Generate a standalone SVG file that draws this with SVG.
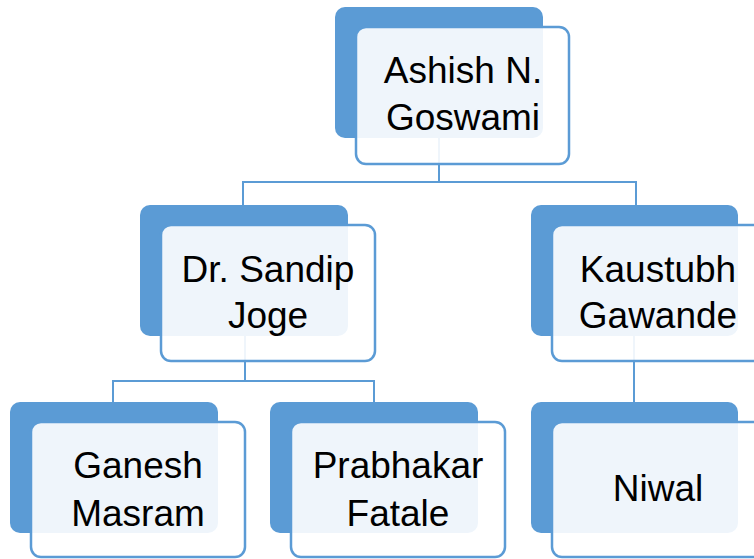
<svg xmlns="http://www.w3.org/2000/svg" width="754" height="559" viewBox="0 0 754 559">
<style>
.back{fill:#5B9BD5;}
.front{fill:#FFFFFF;fill-opacity:0.9;stroke:#5B9BD5;stroke-width:2.5;}
.conn{fill:none;stroke:#5B9BD5;stroke-width:2;}
text{font-family:"Liberation Sans",Arial,sans-serif;font-size:37px;fill:#000;text-anchor:middle;}
</style>
<rect width="754" height="559" fill="#FFFFFF"/>
<g id="connectors">
<path class="conn" d="M439,138 V182 M243,205 V182 H636 V205"/>
<path class="conn" d="M245,336 V381 M113,402 V381 H374 V402"/>
<path class="conn" d="M634,336 V402"/>
</g>
<g id="node-ashish">
<rect class="back" x="335" y="7" width="208" height="131" rx="10"/>
<rect class="front" x="356" y="27" width="213" height="137" rx="10"/>
<text x="463" y="83">Ashish N.</text>
<text x="463" y="130">Goswami</text>
</g>
<g id="node-sandip">
<rect class="back" x="140" y="205" width="208" height="131" rx="10"/>
<rect class="front" x="161" y="225" width="214" height="136" rx="10"/>
<text x="268" y="282">Dr. Sandip</text>
<text x="268" y="328">Joge</text>
</g>
<g id="node-kaustubh">
<rect class="back" x="531" y="205" width="207" height="131" rx="10"/>
<rect class="front" x="552" y="225" width="214" height="136" rx="10"/>
<text x="658" y="282">Kaustubh</text>
<text x="658" y="328">Gawande</text>
</g>
<g id="node-ganesh">
<rect class="back" x="10" y="402" width="208" height="131" rx="10"/>
<rect class="front" x="31" y="422" width="214" height="135" rx="10"/>
<text x="138" y="478">Ganesh</text>
<text x="138" y="526">Masram</text>
</g>
<g id="node-prabhakar">
<rect class="back" x="270" y="402" width="208" height="131" rx="10"/>
<rect class="front" x="291" y="422" width="214" height="135" rx="10"/>
<text x="398" y="478">Prabhakar</text>
<text x="398" y="526">Fatale</text>
</g>
<g id="node-niwal">
<rect class="back" x="531" y="402" width="207" height="131" rx="10"/>
<rect class="front" x="552" y="422" width="214" height="135" rx="10"/>
<text x="658" y="501">Niwal</text>
</g>
</svg>
